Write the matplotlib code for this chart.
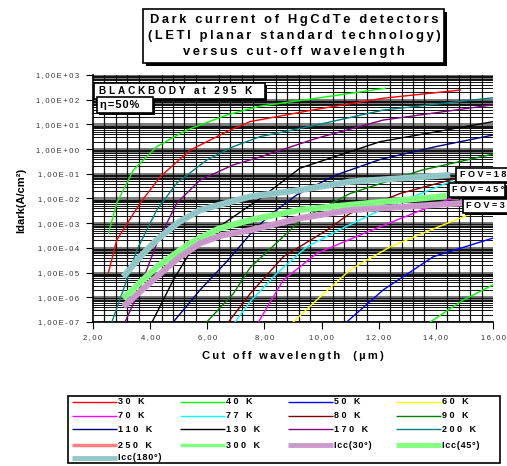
import matplotlib
matplotlib.use("Agg")
from matplotlib import pyplot as plt
from matplotlib.patches import Rectangle
from matplotlib.lines import Line2D
from matplotlib.ticker import MultipleLocator, LogLocator, FuncFormatter, NullFormatter

plt.rcParams['font.family'] = ['Liberation Sans', 'DejaVu Sans']

W, H = 507, 466

# Dark current (A/cm2) versus cut-off wavelength (um), blackbody at 295 K, eta = 50 %
wl_300k = [2.54, 2.83, 3.41, 4.23, 5.28, 6.68, 7.85, 9.83, 12.22]
id_300k = [3.9e-4, 6.5e-3, 0.14, 1.26, 5.9, 24, 55, 115, 290]

wl_250k = [2.54, 2.83, 3.65, 4.35, 5.4, 6.68, 7.5, 9.83, 12.16, 14.85]
id_250k = [1.0e-5, 2.1e-4, 6.5e-3, 7.6e-2, 0.91, 5.1, 13, 41, 115, 245]

wl_200k = [2.66, 3.06, 3.53, 4.23, 4.93, 5.98, 6.91, 7.85, 9.83, 12.16, 16]
id_200k = [1e-7, 2.0e-6, 8.1e-5, 3.4e-3, 4.2e-2, 0.36, 1.26, 3.2, 9.5, 38, 120]

wl_170k = [3.12, 3.53, 3.88, 4.23, 4.93, 5.75, 6.91, 7.85, 9.83, 12.16, 16]
id_170k = [1e-7, 1.1e-6, 1.3e-5, 1.5e-4, 6.5e-3, 5.6e-2, 0.23, 0.48, 2.75, 15, 62]

wl_130k = [4.07, 4.81, 5.51, 6.33, 6.91, 7.85, 9.25, 12.05, 16]
id_130k = [1e-7, 5.0e-6, 1.1e-4, 6.2e-4, 1.8e-3, 1.0e-2, 0.17, 2.0, 12.9]

wl_110k = [4.81, 5.75, 6.68, 7.61, 8.2, 9.13, 10.5, 12.05, 14.0, 16]
id_110k = [1e-7, 2.0e-6, 2.8e-5, 5.0e-4, 2.2e-3, 1.4e-2, 8.9e-2, 0.38, 1.26, 3.7]

wl_90k = [5.98, 6.91, 7.5, 8.9, 9.25, 11.0, 13.5, 16]
id_90k = [1e-7, 1.4e-6, 1.6e-5, 5.2e-4, 1.35e-3, 1.6e-2, 0.14, 0.63]

wl_80k = [6.74, 7.5, 8.66, 10.18, 11.0, 12.75, 14.5, 14.8]
id_80k = [1e-7, 1.4e-6, 4.4e-5, 5.2e-4, 2.5e-3, 1.6e-2, 5.6e-2, 6.6e-2]

wl_77k = [6.97, 7.5, 8.43, 9.48, 10.59, 12.05, 14.38, 14.6]
id_77k = [1e-7, 6.6e-7, 9.3e-6, 1.1e-4, 5.2e-4, 3.4e-3, 4.2e-2, 5.0e-2]

wl_70k = [7.79, 8.66, 9.83, 11.75, 13.21, 14.38, 14.9]
id_70k = [1e-7, 5.0e-6, 6.0e-5, 5.2e-4, 2.5e-3, 8.7e-3, 1.26e-2]

wl_60k = [9.01, 9.83, 11.0, 12.4, 13.8, 15.55]
id_60k = [1e-7, 7.8e-7, 1.3e-5, 1.1e-4, 5.2e-4, 3.4e-3]

wl_50k = [10.88, 12.16, 13.91, 16]
id_50k = [1e-7, 2.0e-6, 4.4e-5, 2.5e-4]

wl_40k = [13.8, 14.96, 16]
id_40k = [1e-7, 7.8e-7, 3.2e-6]

# background-limited current for three fields of view
wl_icc180 = [3.06, 3.65, 4.23, 5.0, 5.75, 7.5, 9.25, 11.0, 14.5]
id_icc180 = [6.8e-6, 4.4e-5, 2.1e-4, 1.1e-3, 3.4e-3, 1.2e-2, 2.2e-2, 4.8e-2, 8.9e-2]

wl_icc45 = [3.06, 4.23, 5.4, 6.4, 7.5, 9.25, 11.0, 14.38]
id_icc45 = [9.1e-7, 1.7e-5, 1.55e-4, 6.0e-4, 1.35e-3, 3.5e-3, 5.5e-3, 1.26e-2]

wl_icc30 = [3.06, 4.23, 5.0, 5.75, 6.5, 7.5, 9.25, 11.0, 14.96]
id_icc30 = [4.2e-7, 6.8e-6, 4.0e-5, 1.55e-4, 3.2e-4, 5.2e-4, 1.6e-3, 3.4e-3, 6.5e-3]

temps = ["30 K", "40 K", "50 K", "60 K", "70 K", "77 K", "80 K", "90 K",
         "110 K", "130 K", "170 K", "200 K", "250 K", "300 K"]


def spaced(s, gap="\u2009"):
    return gap.join(s)


def fx(x):
    return x / W


def fy(y):
    return 1 - y / H


def panel(x0, y0, x1, y1, shadow=3, z=10):
    # white box with black border and a drop shadow, pixel coords from top-left
    if shadow:
        fig.add_artist(Rectangle((fx(x0 + shadow), fy(y1 + shadow)), fx(x1 - x0), (y1 - y0) / H,
                                 transform=fig.transFigure, facecolor="black",
                                 edgecolor="none", zorder=z))
    fig.add_artist(Rectangle((fx(x0), fy(y1)), fx(x1 - x0), (y1 - y0) / H,
                             transform=fig.transFigure, facecolor="white",
                             edgecolor="black", lw=1.2, zorder=z + 0.1))


fig = plt.figure(figsize=(W / 100, H / 100), dpi=100)
ax = fig.add_axes([fx(93), fy(322), fx(400), 247 / H])
ax.set_yscale("log")
ax.set_xlim(2, 16)
ax.set_ylim(1e-7, 1e3)

# grid: vertical lines every 0.4 um, log grid with grey bands under each decade
ax.xaxis.set_major_locator(MultipleLocator(2))
ax.xaxis.set_minor_locator(MultipleLocator(0.4))
ax.yaxis.set_major_locator(LogLocator(base=10, numticks=20))
ax.yaxis.set_minor_locator(LogLocator(base=10, subs=range(2, 10), numticks=20))
ax.yaxis.set_minor_formatter(NullFormatter())
ax.grid(which="minor", axis="x", color="#111111", lw=0.9, zorder=0)
ax.grid(which="minor", axis="y", color="#111111", lw=0.7, zorder=0)
for e in range(-7, 4):
    for f in (1.0, 0.9, 0.8, 0.7):
        ax.axhline(f * 10.0 ** e, color="#6e6e6e", lw=1.3, zorder=0.5)

ax.xaxis.set_major_formatter(FuncFormatter(lambda v, p: spaced(f"{v:.2f}".replace(".", ","))))
ax.yaxis.set_major_formatter(FuncFormatter(lambda v, p: spaced(f"{v:.2E}".replace(".", ","))))
ax.tick_params(which="major", length=5, width=0.8, labelsize=5.5, labelcolor="#333333")
ax.tick_params(axis="y", which="major", pad=5)
ax.tick_params(axis="x", which="major", pad=4)
ax.tick_params(which="minor", length=0)
for s in ("top", "right"):
    ax.spines[s].set_visible(False)
ax.spines["left"].set_linewidth(1.2)
ax.spines["bottom"].set_linewidth(1.2)

# thin curves, one per temperature (colours as drawn on the chart)
series = [
    (wl_300k, id_300k, "#00ff00"),
    (wl_250k, id_250k, "#ff0000"),
    (wl_200k, id_200k, "#008080"),
    (wl_170k, id_170k, "#800080"),
    (wl_130k, id_130k, "#000000"),
    (wl_110k, id_110k, "#000080"),
    (wl_90k, id_90k, "#008000"),
    (wl_80k, id_80k, "#800000"),
    (wl_77k, id_77k, "#00ffff"),
    (wl_70k, id_70k, "#ff00ff"),
    (wl_60k, id_60k, "#ffff00"),
    (wl_50k, id_50k, "#0000ff"),
    (wl_40k, id_40k, "#00ff00"),
]
for wl, cur, col in series:
    ax.plot(wl, cur, color=col, lw=1.0, zorder=3)

# thick Icc curves
icc = [
    (wl_icc180, id_icc180, "#92c8c8", "#78b0b0"),
    (wl_icc45, id_icc45, "#80ff80", "#70e070"),
    (wl_icc30, id_icc30, "#cc99cc", "#b884b8"),
]
for wl, cur, col, dark in icc:
    ax.plot(wl, cur, color=col, lw=4.5, solid_capstyle="butt", zorder=4)
    ax.plot(wl, cur, color=dark, lw=1.0, ls=(0, (0.6, 1.6)), zorder=4.1)

# axis titles
fig.text(fx(293), fy(356), spaced("Cut off wavelength  (µm)"), fontsize=8, fontweight="bold",
         ha="center", va="center")
fig.text(fx(21), fy(200), "Idark(A/cm²)", fontsize=8, fontweight="bold", rotation=90,
         ha="center", va="center")

# title
panel(143, 9, 444, 63)
for i, line in enumerate(["Dark current of HgCdTe detectors",
                          "(LETI planar standard technology)",
                          "versus cut-off wavelength"]):
    fig.text(fx(294), fy(20 + 16 * i), spaced(line), fontsize=9.3, fontweight="bold",
             ha="center", va="center", zorder=12)

wide = "\u2009\u200a"

# blackbody / quantum efficiency boxes
panel(94, 83, 265, 99, shadow=2)
fig.text(fx(99), fy(91), spaced("BLACKBODY at 295 K", wide), fontsize=7.2, fontweight="bold",
         ha="left", va="center", zorder=12)
panel(97, 97, 153, 113, shadow=2)
fig.text(fx(100), fy(105.5), spaced("η=50%", "\u200a"), fontsize=8, fontweight="bold",
         ha="left", va="center", zorder=12)

# field of view labels
panel(456, 168, 520, 182, shadow=2)
fig.text(fx(460), fy(175), spaced("FOV=180°", wide), fontsize=6.5, fontweight="bold",
         ha="left", va="center", zorder=12)
panel(449, 183, 505, 197, shadow=2)
fig.text(fx(452), fy(190), spaced("FOV=45°", wide), fontsize=6.5, fontweight="bold",
         ha="left", va="center", zorder=12)
panel(463, 199, 520, 213, shadow=2)
fig.text(fx(466), fy(206), spaced("FOV=30°", wide), fontsize=6.5, fontweight="bold",
         ha="left", va="center", zorder=12)

# legend
leg_labels = temps + ["Icc(30°)", "Icc(45°)", "Icc(180°)"]
leg_styles = [("#ff0000", 1), ("#00ff00", 1), ("#0000ff", 1), ("#ffff00", 1),
              ("#ff00ff", 1), ("#00ffff", 1), ("#800000", 1), ("#008000", 1),
              ("#000080", 1), ("#000000", 1), ("#800080", 1), ("#008080", 1),
              ("#ff8080", 2.5), ("#80ff80", 2.5),
              ("#cc99cc", 3.5), ("#80ff80", 3.5), ("#92c8c8", 3.5)]
panel(68, 396, 500, 463, shadow=0, z=1)
cols = [72, 180, 288, 396]
rows = [402, 416, 429, 445, 458]
for i, (lab, (col, lw)) in enumerate(zip(leg_labels, leg_styles)):
    x0, y0 = cols[i % 4], rows[i // 4]
    fig.add_artist(Line2D([fx(x0), fx(x0 + 45)], [fy(y0), fy(y0)], color=col, lw=lw,
                          transform=fig.transFigure, solid_capstyle="butt", zorder=3))
    fig.text(fx(x0 + 46), fy(y0), spaced(lab, wide) if "K" in lab else spaced(lab, "\u200a"),
             fontsize=6.5, fontweight="bold", ha="left", va="center", zorder=3)

fig.savefig("out.png", dpi=100)
